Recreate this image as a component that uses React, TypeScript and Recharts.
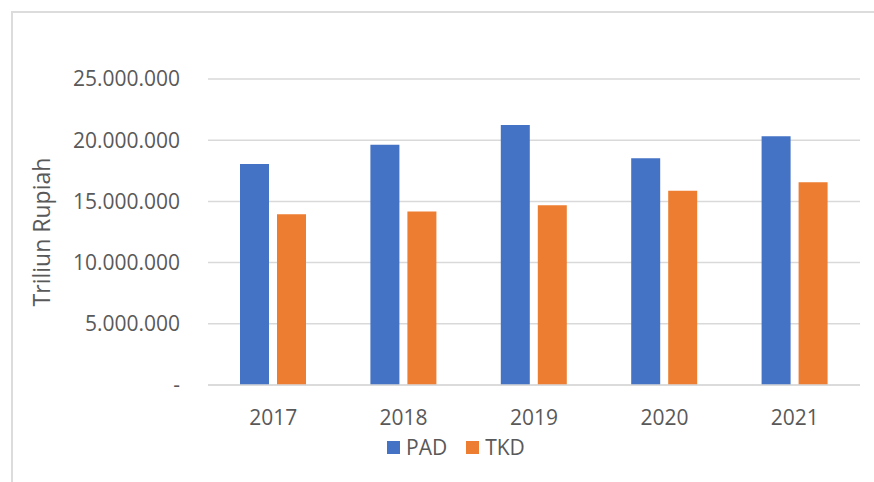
import { BarChart, Bar, XAxis, YAxis, CartesianGrid, Legend, Label } from 'recharts';

const years = ['2017', '2018', '2019', '2020', '2021'];
const pad = [18050000, 19630000, 21250000, 18520000, 20320000];
const tkd = [13950000, 14170000, 14690000, 15860000, 16570000];
const yTicks = [0, 5000000, 10000000, 15000000, 20000000, 25000000];

const SERIES = [
  { key: 'PAD', color: '#4472C4' },
  { key: 'TKD', color: '#ED7D31' },
];

const TEXT = '#595959';
const FONT = '"Open Sans", sans-serif';

const data = years.map((year, i) => ({ year, PAD: pad[i], TKD: tkd[i] }));

function formatTick(v: number) {
  if (v === 0) return '-';
  return String(v).replace(/\B(?=(\d{3})+(?!\d))/g, '.');
}

function LegendContent() {
  return (
    <div style={{ display: 'flex', alignItems: 'center', fontFamily: FONT, fontSize: 21, color: TEXT }}>
      {SERIES.map((s, i) => (
        <div key={s.key} style={{ display: 'flex', alignItems: 'center', marginLeft: i === 0 ? 0 : 19 }}>
          <span style={{ display: 'inline-block', width: 13, height: 13, background: s.color, marginRight: 6 }} />
          <span style={{ lineHeight: '24px' }}>{s.key}</span>
        </div>
      ))}
    </div>
  );
}

export default function App() {
  return (
    <div style={{ position: 'absolute', left: 0, top: 0, width: 874, height: 482, background: '#fff', overflow: 'hidden' }}>
      <div
        style={{
          position: 'absolute',
          left: 11,
          top: 11,
          width: 880,
          height: 480,
          borderLeft: '2px solid #dcdcdc',
          borderTop: '2px solid #dcdcdc',
        }}
      />
      <BarChart
        width={874}
        height={482}
        data={data}
        margin={{ top: 79, right: 14, bottom: 0, left: 0 }}
        barSize={29}
        barGap={8}
        style={{ position: 'absolute', left: 0, top: 0, fontFamily: FONT }}
      >
        <CartesianGrid vertical={false} stroke="#d9d9d9" strokeWidth={1.5} />
        <XAxis
          dataKey="year"
          height={73}
          axisLine={{ stroke: '#d9d9d9', strokeWidth: 1.5 }}
          tickLine={false}
          tickSize={0}
          tickMargin={25}
          tick={{ fill: TEXT, fontSize: 21 }}
        />
        <YAxis
          width={208}
          domain={[0, 25000000]}
          ticks={yTicks}
          interval={0}
          axisLine={false}
          tickLine={false}
          tickSize={0}
          tickMargin={28}
          tickFormatter={formatTick}
          tick={{ fill: TEXT, fontSize: 21 }}
        >
          <Label
            value="Triliun Rupiah"
            angle={-90}
            position="insideLeft"
            offset={42}
            style={{ textAnchor: 'middle', fill: TEXT, fontSize: 23 }}
          />
        </YAxis>
        <Legend
          content={<LegendContent />}
          wrapperStyle={{ position: 'absolute', left: 387, top: 435, width: 'auto' }}
        />
        {SERIES.map((s) => (
          <Bar key={s.key} dataKey={s.key} fill={s.color} isAnimationActive={false} />
        ))}
      </BarChart>
    </div>
  );
}
